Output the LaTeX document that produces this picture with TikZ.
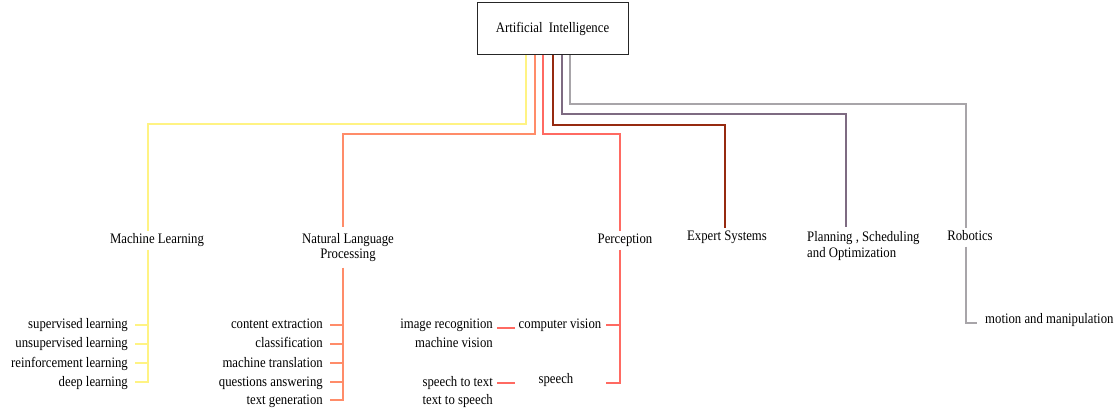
\documentclass[tikz,border=0pt]{standalone}
\usepackage{fontspec}
\setmainfont{Liberation Serif}[FakeStretch=0.88]
\usetikzlibrary{calc}
\definecolor{cML}{HTML}{FFF383}
\definecolor{cNLP}{HTML}{FF8C69}
\definecolor{cPer}{HTML}{FF6A62}
\definecolor{cES}{HTML}{962A10}
\definecolor{cPS}{HTML}{7E6B82}
\definecolor{cRob}{HTML}{A8A5A9}
\definecolor{cBox}{HTML}{262626}
\begin{document}
\begin{tikzpicture}[x=1pt,y=-1pt,
  lbl/.style={font=\fontsize{14.5}{15}\selectfont, inner xsep=2pt, inner ysep=3pt, text height=10pt, text depth=2.5pt},
  mlbl/.style={font=\fontsize{14.5}{15}\selectfont, inner xsep=2pt, inner ysep=4pt},
  root/.style={draw=cBox, line width=1pt, minimum width=151pt, minimum height=52pt, font=\fontsize{14.5}{15}\selectfont},
  link/.style={line width=2pt}
]
\useasboundingbox (0,0) rectangle (1116,411);

% root
\node[root] (ai) at (552.5,29) {Artificial\ \ Intelligence};

% categories
\node[lbl, anchor=base] (ml) at (157,244) {Machine Learning};
\node[mlbl, align=center, anchor=north, inner ysep=6pt] (nlp) at (348,227) {Natural Language\\Processing};
\node[lbl, anchor=base] (per) at (625,244) {Perception};
\node[lbl, anchor=base] (es) at (727,241) {Expert Systems};
\node[mlbl, align=left, anchor=north west] (pso) at (805,227) {Planning , Scheduling\\[1pt]and Optimization};
\node[lbl, anchor=base] (rob) at (970,241) {Robotics};

% machine learning leaves
\node[lbl, anchor=base east] (sl) at (130,329) {supervised learning};
\node[lbl, anchor=base east] (ul) at (130,348) {unsupervised learning};
\node[lbl, anchor=base east] (rl) at (130,367) {reinforcement learning};
\node[lbl, anchor=base east] (dl) at (130,386) {deep learning};

% nlp leaves
\node[lbl, anchor=base east] (ce) at (325,329) {content extraction};
\node[lbl, anchor=base east] (cl) at (325,348) {classification};
\node[lbl, anchor=base east] (mt) at (325,367) {machine translation};
\node[lbl, anchor=base east] (qa) at (325,386) {questions answering};
\node[lbl, anchor=base east] (tg) at (325,404) {text generation};

% perception leaves
\node[lbl, anchor=base, inner xsep=4pt] (cv) at (560,329) {computer vision};
\node[lbl, anchor=base, inner xsep=4pt] (sp) at (556,384) {speech};
\node[mlbl, align=right, anchor=base east, inner xsep=4pt] (ir) at (497,348) {image recognition\\[4pt]machine vision};
\node[mlbl, align=right, anchor=base east, inner xsep=4pt] (st) at (497,404) {speech to text\\[3pt]text to speech};

% robotics leaf
\node[lbl, anchor=base west] (mm) at (983,324) {motion and manipulation};

% bend points
\coordinate (hML) at (148,124);
\coordinate (hNLP) at (343,134);
\coordinate (hPer) at (620,134);
\coordinate (hES) at (725,125);
\coordinate (hPS) at (846,114);
\coordinate (hRob) at (966,104);

% root connectors
\draw[link, cML]  ([xshift=-26.5pt]ai.south) |- (hML)  -- (ml.north -| hML);
\draw[link, cNLP] ([xshift=-17.5pt]ai.south) |- (hNLP) -- (nlp.north -| hNLP);
\draw[link, cPer] ([xshift=-9.5pt]ai.south)  |- (hPer) -- (per.north -| hPer);
\draw[link, cES]  ([xshift=0.5pt]ai.south)   |- (hES)  -- (es.north -| hES);
\draw[link, cPS]  ([xshift=9.5pt]ai.south)   |- (hPS)  -- (pso.north -| hPS);
\draw[link, cRob] ([xshift=17.5pt]ai.south)  |- (hRob) -- (rob.north -| hRob);

% machine learning subtree
\draw[link, cML] (ml.south -| hML) -- (dl.east -| hML) -- ([xshift=5pt]dl.east);
\foreach \n in {sl,ul,rl}
  \draw[link, cML] ([xshift=5pt]\n.east) -- (\n.east -| hML);

% nlp subtree
\draw[link, cNLP] (nlp.south -| hNLP) -- (tg.east -| hNLP) -- ([xshift=5pt]tg.east);
\foreach \n in {ce,cl,mt,qa}
  \draw[link, cNLP] ([xshift=5pt]\n.east) -- (\n.east -| hNLP);

% perception subtree
\coordinate (cvt) at ([xshift=1pt]cv.east);
\coordinate (cvb) at ([yshift=1pt]cv.base);
\coordinate (spb) at ([yshift=1pt]sp.base);
\draw[link, cPer] (per.south -| hPer) -- (spb -| hPer) -- (spb -| cvt);
\draw[link, cPer] (cvt) -- (cv.east -| hPer);
\draw[link, cPer] (cvb -| ir.east) -- (cvb -| cv.west);
\draw[link, cPer] (spb -| st.east) -- (spb -| cv.west);

% robotics subtree
\draw[link, cRob] (rob.south -| hRob) |- ([xshift=-6pt,yshift=1pt]mm.base west);
\end{tikzpicture}
\end{document}
